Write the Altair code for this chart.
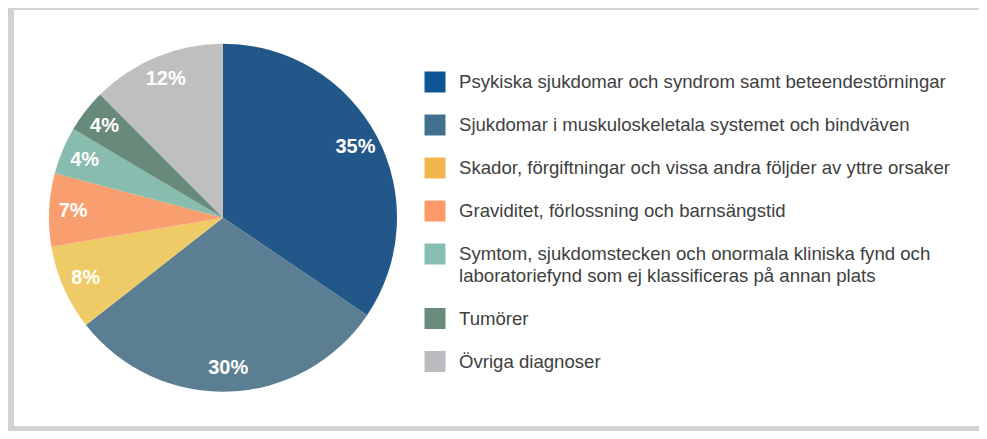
import altair as alt
import pandas as pd

categories = [
    "Psykiska sjukdomar och syndrom samt beteendestörningar",
    "Sjukdomar i muskuloskeletala systemet och bindväven",
    "Skador, förgiftningar och vissa andra följder av yttre orsaker",
    "Graviditet, förlossning och barnsängstid",
    "Symtom, sjukdomstecken och onormala kliniska fynd och\nlaboratoriefynd som ej klassificeras på annan plats",
    "Tumörer",
    "Övriga diagnoser",
]
# slice shares
values = [34.5, 30.0, 7.9, 6.8, 4.4, 4.0, 12.5]
# printed labels
labels_txt = ["35%", "30%", "8%", "7%", "4%", "4%", "12%"]
pie_colors = ["#22578a", "#5b7e92", "#eecb67", "#f99e6e", "#87bcae", "#688a7b", "#bfbfbf"]
legend_colors = ["#0f5595", "#41708e", "#f0b64d", "#fd9a68", "#88beb1", "#688b7c", "#bbbcc0"]

FONT = "Liberation Sans"

pie_df = pd.DataFrame({
    "cat": categories,
    "value": values,
    "idx": list(range(len(values))),
    "label": labels_txt,
})

# legend rows: each row takes (number of lines + 1) line units
sw_rows, txt_rows = [], []
unit = 0
for i, c in enumerate(categories):
    lines = c.split("\n")
    sw_rows.append({"cat": c, "unit": unit, "idx": i})
    for j, ln in enumerate(lines):
        txt_rows.append({"text": ln, "unit": unit + j})
    unit += len(lines) + 1
sw_df = pd.DataFrame(sw_rows)
txt_df = pd.DataFrame(txt_rows)

cx, cy = 209, 207.7
yscale = alt.Scale(domain=[0, 13], range=[72, 351.5])

pie = alt.Chart(pie_df).mark_arc(outerRadius=174).encode(
    theta=alt.Theta("value:Q", stack=True),
    order=alt.Order("idx:Q"),
    color=alt.Color("cat:N", scale=alt.Scale(domain=categories, range=pie_colors), legend=None),
    x=alt.value(cx),
    y=alt.value(cy),
)

labels = alt.Chart(pie_df).mark_text(
    radius=150, font=FONT, fontSize=20, fontWeight="bold", color="white",
    align="center", baseline="middle",
).encode(
    theta=alt.Theta("value:Q", stack=True),
    order=alt.Order("idx:Q"),
    text="label:N",
    x=alt.value(cx),
    y=alt.value(cy),
)

swatches = alt.Chart(sw_df).mark_point(shape="square", filled=True, size=441, opacity=1).encode(
    x=alt.value(421),
    y=alt.Y("unit:Q", scale=yscale, axis=None),
    color=alt.Color("cat:N", scale=alt.Scale(domain=categories, range=legend_colors), legend=None),
)

legend_text = alt.Chart(txt_df).mark_text(
    font=FONT, fontSize=18.6, color="#404040", align="left", baseline="middle",
).encode(
    x=alt.value(445),
    y=alt.Y("unit:Q", scale=yscale, axis=None),
    text="text:N",
)

chart = alt.layer(pie, labels, swatches, legend_text).resolve_scale(
    color="independent"
).properties(
    width=965, height=416,
    autosize=alt.AutoSizeParams(type="none"),
    padding={"left": 6, "top": 2, "right": 0, "bottom": 5},
).configure(background="#d2d3d5").configure_view(fill="white", stroke=None)

chart.save("out.html", embed_options={"renderer": "svg", "actions": False})
